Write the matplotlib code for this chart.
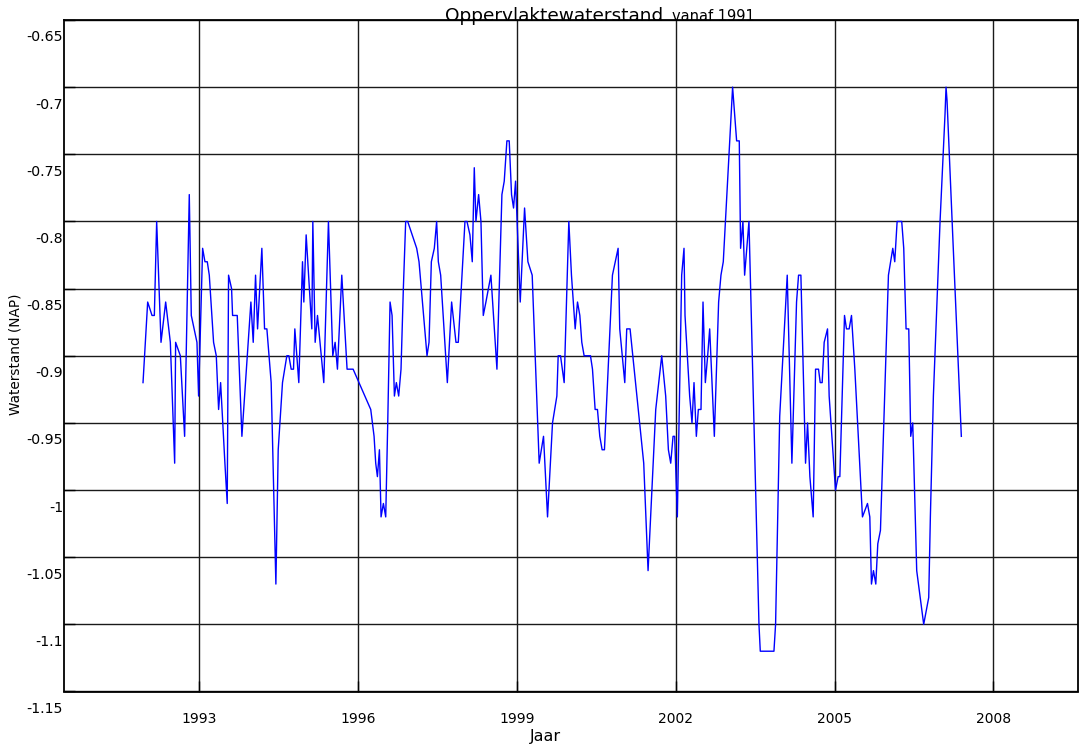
import matplotlib
matplotlib.use("Agg")
import matplotlib.pyplot as plt
import matplotlib.transforms as mtransforms
import numpy as np

# waterstand per meetmoment (jaar als decimaal getal, waarde in m NAP)
jaren = [
    1991.937, 1992.025, 1992.107, 1992.151, 1992.195, 1992.277, 1992.365, 1992.453,
    1992.535, 1992.553, 1992.642, 1992.723, 1992.811, 1992.849, 1992.956, 1992.987,
    1993.063, 1993.107, 1993.151, 1993.189, 1993.270, 1993.321, 1993.365, 1993.403,
    1993.484, 1993.528, 1993.553, 1993.610, 1993.629, 1993.717, 1993.805, 1993.975,
    1994.019, 1994.063, 1994.101, 1994.182, 1994.233, 1994.277, 1994.358, 1994.447,
    1994.491, 1994.572, 1994.654, 1994.692, 1994.736, 1994.780, 1994.805, 1994.880,
    1994.950, 1994.975, 1995.019, 1995.126, 1995.145, 1995.189, 1995.233, 1995.352,
    1995.440, 1995.522, 1995.566, 1995.610, 1995.692, 1995.792, 1995.906,
    1996.239, 1996.302, 1996.333, 1996.365, 1996.403, 1996.434, 1996.478, 1996.522,
    1996.560, 1996.604, 1996.642, 1996.686, 1996.723, 1996.767, 1996.811, 1996.855,
    1996.899, 1996.937, 1997.107, 1997.151, 1997.302, 1997.340, 1997.384, 1997.440,
    1997.484, 1997.516, 1997.560, 1997.686, 1997.767, 1997.849, 1997.893, 1998.019,
    1998.057, 1998.113, 1998.157, 1998.195, 1998.226, 1998.277, 1998.321, 1998.365,
    1998.415, 1998.509, 1998.623, 1998.717, 1998.761, 1998.811, 1998.855, 1998.899,
    1998.937, 1998.975, 1999.063, 1999.145, 1999.208, 1999.289, 1999.384, 1999.421,
    1999.503, 1999.579, 1999.673, 1999.755, 1999.780, 1999.824, 1999.893, 1999.981,
    2000.031, 2000.101, 2000.145, 2000.189, 2000.226, 2000.270, 2000.390, 2000.428,
    2000.478, 2000.522, 2000.566, 2000.610, 2000.654, 2000.805, 2000.912, 2000.943,
    2001.038, 2001.075, 2001.138, 2001.396, 2001.478, 2001.623, 2001.736, 2001.811,
    2001.862, 2001.906, 2001.950, 2001.981, 2002.031, 2002.113, 2002.157, 2002.176,
    2002.264, 2002.308, 2002.346, 2002.390, 2002.428, 2002.478, 2002.516, 2002.560,
    2002.604, 2002.642, 2002.730, 2002.811, 2002.855, 2002.899, 2003.075, 2003.151,
    2003.201, 2003.226, 2003.270, 2003.302, 2003.384, 2003.573, 2003.598, 2003.856,
    2003.887, 2003.965, 2004.107, 2004.195, 2004.283, 2004.321, 2004.365, 2004.453,
    2004.491, 2004.535, 2004.597, 2004.642, 2004.698, 2004.730, 2004.767, 2004.805,
    2004.868, 2004.899, 2005.019, 2005.069, 2005.101, 2005.189, 2005.226, 2005.277,
    2005.321, 2005.384, 2005.528, 2005.623, 2005.667, 2005.698, 2005.736, 2005.780,
    2005.818, 2005.868, 2006.019, 2006.101, 2006.138, 2006.183, 2006.270, 2006.308,
    2006.352, 2006.403, 2006.440, 2006.478, 2006.553, 2006.685, 2006.780, 2006.811,
    2006.868, 2006.994, 2007.088, 2007.107, 2007.126, 2007.233, 2007.396,
]
waterstand = [
    -0.92, -0.86, -0.87, -0.87, -0.80, -0.89, -0.86, -0.89,
    -0.98, -0.89, -0.90, -0.96, -0.78, -0.87, -0.89, -0.93,
    -0.82, -0.83, -0.83, -0.84, -0.89, -0.90, -0.94, -0.92,
    -0.98, -1.01, -0.84, -0.85, -0.87, -0.87, -0.96, -0.86,
    -0.89, -0.84, -0.88, -0.82, -0.88, -0.88, -0.92, -1.07,
    -0.97, -0.92, -0.90, -0.90, -0.91, -0.91, -0.88, -0.92,
    -0.83, -0.86, -0.81, -0.88, -0.80, -0.89, -0.87, -0.92,
    -0.80, -0.90, -0.89, -0.91, -0.84, -0.91, -0.91,
    -0.94, -0.96, -0.98, -0.99, -0.97, -1.02, -1.01, -1.02,
    -0.95, -0.86, -0.87, -0.93, -0.92, -0.93, -0.91, -0.85,
    -0.80, -0.80, -0.82, -0.83, -0.90, -0.89, -0.83, -0.82,
    -0.80, -0.83, -0.84, -0.92, -0.86, -0.89, -0.89, -0.80,
    -0.80, -0.81, -0.83, -0.76, -0.80, -0.78, -0.80, -0.87,
    -0.86, -0.84, -0.91, -0.78, -0.77, -0.74, -0.74, -0.78,
    -0.79, -0.77, -0.86, -0.79, -0.83, -0.84, -0.94, -0.98,
    -0.96, -1.02, -0.95, -0.93, -0.90, -0.90, -0.92, -0.80,
    -0.84, -0.88, -0.86, -0.87, -0.89, -0.90, -0.90, -0.91,
    -0.94, -0.94, -0.96, -0.97, -0.97, -0.84, -0.82, -0.88,
    -0.92, -0.88, -0.88, -0.98, -1.06, -0.94, -0.90, -0.93,
    -0.97, -0.98, -0.96, -0.96, -1.02, -0.84, -0.82, -0.87,
    -0.93, -0.95, -0.92, -0.96, -0.94, -0.94, -0.86, -0.92,
    -0.90, -0.88, -0.96, -0.86, -0.84, -0.83, -0.70, -0.74,
    -0.74, -0.82, -0.80, -0.84, -0.80, -1.10, -1.12, -1.12,
    -1.10, -0.945, -0.84, -0.98, -0.86, -0.84, -0.84, -0.98,
    -0.95, -0.99, -1.02, -0.91, -0.91, -0.92, -0.92, -0.89,
    -0.88, -0.93, -1.00, -0.99, -0.99, -0.87, -0.88, -0.88,
    -0.87, -0.91, -1.02, -1.01, -1.02, -1.07, -1.06, -1.07,
    -1.04, -1.03, -0.84, -0.82, -0.83, -0.80, -0.80, -0.82,
    -0.88, -0.88, -0.96, -0.95, -1.06, -1.10, -1.08, -1.02,
    -0.93, -0.80, -0.72, -0.70, -0.71, -0.81, -0.96,
]

y_ticks = [-0.65, -0.7, -0.75, -0.8, -0.85, -0.9, -0.95, -1.0, -1.05, -1.1, -1.15]
y_labels = ["-0.65", "-0.7", "-0.75", "-0.8", "-0.85", "-0.9", "-0.95", "-1", "-1.05", "-1.1", "-1.15"]
x_ticks = [1993, 1996, 1999, 2002, 2005, 2008]
x_labels = ["1993", "1996", "1999", "2002", "2005", "2008"]

W, H = 1086, 744
fig = plt.figure(figsize=(W / 100, H / 100), dpi=100)
ax = fig.add_axes([64.3 / W, 1 - 691.5 / H, (1078 - 64.3) / W, (691.5 - 20) / H])

ax.plot(jaren, waterstand, color="#0000ff", linewidth=1.0)

ax.set_xlim(1990.45, 2009.6)
ax.set_ylim(-1.15, -0.65)
ax.set_xticks(x_ticks)
ax.set_xticklabels(x_labels)
ax.set_yticks(y_ticks)
ax.set_yticklabels(y_labels)
ax.grid(True, color="#1a1a1a", linewidth=1.0)
ax.set_axisbelow(True)

for s in ax.spines.values():
    s.set_color("black")
    s.set_linewidth(1.3)

ax.tick_params(axis="both", direction="in", length=8, width=1, colors="black")
ax.tick_params(axis="y", pad=1, labelsize=10.2)
ax.tick_params(axis="x", pad=15, labelsize=10)

# labels van de y-as staan een stukje onder de rasterlijn
offset = mtransforms.ScaledTranslation(0, -16 / 100, fig.dpi_scale_trans)
for lbl in ax.get_yticklabels():
    lbl.set_transform(lbl.get_transform() + offset)

# titel in twee delen, tweede deel kleiner
fig.text(445 / W, 1 - 21 / H, "Oppervlaktewaterstand", fontsize=13.3, ha="left", va="baseline")
fig.text(672 / W, 1 - 21 / H, "vanaf 1991", fontsize=10.5, ha="left", va="baseline")

fig.text(545 / W, 1 - 736 / H, "Jaar", fontsize=11.5, ha="center", va="center")
fig.text(16 / W, 1 - 354 / H, "Waterstand (NAP)", fontsize=9.8, ha="center", va="center", rotation=90)

fig.savefig("out.png", dpi=100)
